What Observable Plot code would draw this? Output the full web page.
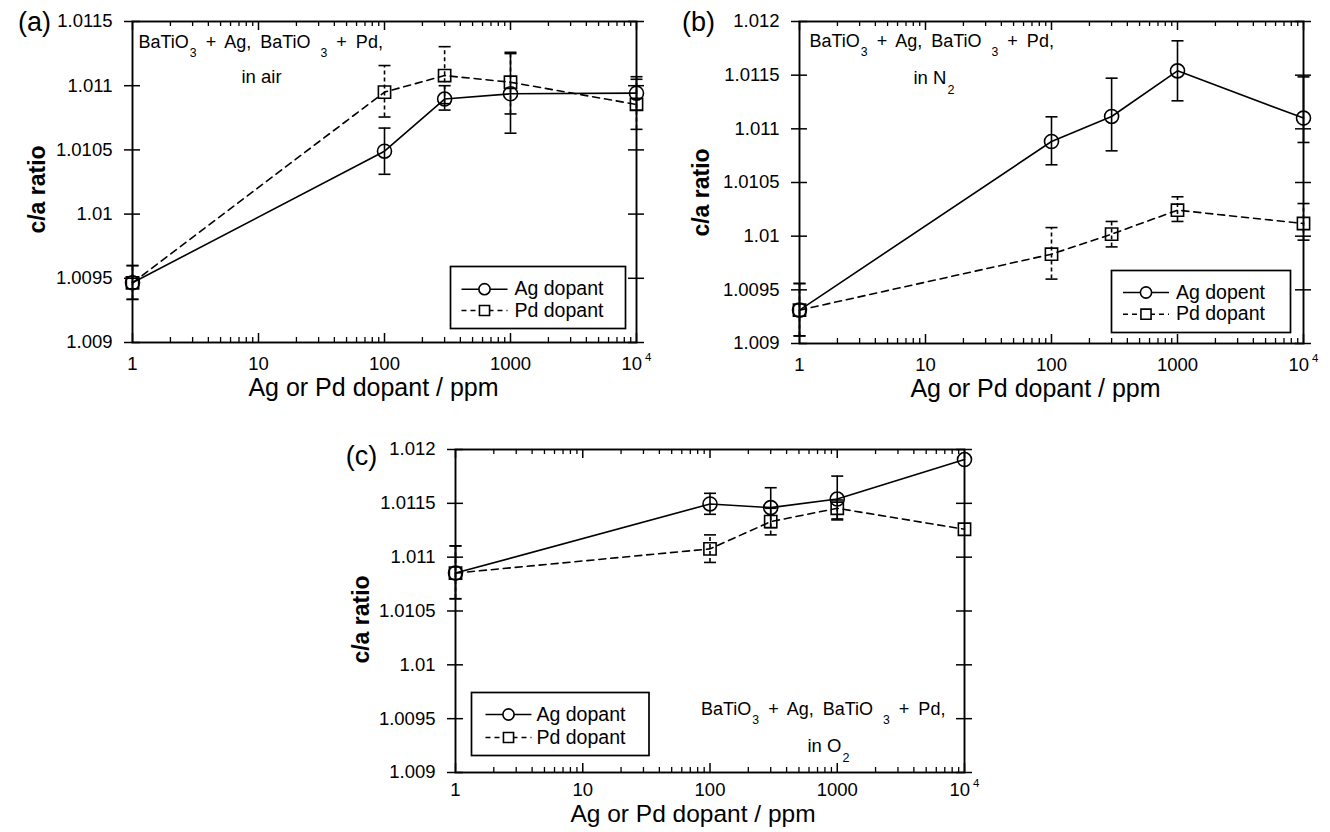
<!DOCTYPE html>
<html>
<head>
<meta charset="utf-8">
<script src="https://cdn.jsdelivr.net/npm/d3@7"></script>
<script src="https://cdn.jsdelivr.net/npm/@observablehq/plot@0.6"></script>
<style>
  body { margin: 0; background: #fff; }
  #fig { position: relative; width: 1330px; height: 832px; overflow: hidden; background: #fff; }
  #fig svg { position: absolute; overflow: visible; }
</style>
</head>
<body>
<div id="fig"></div>
<script>
// ---------- data ----------
const dopant = [1, 100, 300, 1000, 10000];           // ppm
const xTicks = [1, 10, 100, 1000, 10000];
const xTickLabels = ["1", "10", "100", "1000", "10^4"];
const yTicksA = [1.009, 1.0095, 1.01, 1.0105, 1.011, 1.0115];
const yTicksBC = [1.009, 1.0095, 1.01, 1.0105, 1.011, 1.0115, 1.012];

// (a) in air
const agAir   = [1.009465, 1.01049, 1.010896, 1.010937, 1.010942];
const agAirLo = [1.009336, 1.01031, 1.01081, 1.01063, 1.01081];
const agAirHi = [1.009599, 1.01067, 1.01100, 1.01125, 1.01107];
const pdAir   = [1.009465, 1.01095, 1.011079, 1.011027, 1.010854];
const pdAirLo = [1.009336, 1.010756, 1.01086, 1.01078, 1.01066];
const pdAirHi = [1.009599, 1.011157, 1.011304, 1.01126, 1.01105];

// (b) in N2
const agN2   = [1.009311, 1.010882, 1.011115, 1.01154, 1.0111];
const agN2Lo = [1.009071, 1.010665, 1.010795, 1.011261, 1.010873];
const agN2Hi = [1.009559, 1.011112, 1.011472, 1.01182, 1.011484];
const pdN2   = [1.009311, 1.009832, 1.010019, 1.010242, 1.010118];
const pdN2Lo = [1.009071, 1.0096, 1.0099, 1.010137, 1.009963];
const pdN2Hi = [1.009559, 1.01008, 1.010137, 1.010367, 1.010304];

// (c) in O2
const agO2   = [1.010852, 1.011494, 1.01146, 1.01154, 1.011907];
const agO2Lo = [1.010614, 1.011398, 1.011275, 1.011346, null];
const agO2Hi = [1.011105, 1.011593, 1.011645, 1.011753, null];
const pdO2   = [1.010852, 1.011077, 1.01133, 1.011454, 1.011259];
const pdO2Lo = [1.010614, 1.010951, 1.011207, 1.011355, null];
const pdO2Hi = [1.011105, 1.011207, 1.011454, 1.011531, null];

// ---------- drawing ----------
const FONT = "'Liberation Sans', Arial, Helvetica, sans-serif";
const hLine = { draw(ctx, size) { const r = Math.sqrt(size / Math.PI); ctx.moveTo(-r, 0); ctx.lineTo(r, 0); } };
const xMinor = [1, 10, 100, 1000].flatMap(d => [2, 3, 4, 5, 6, 7, 8, 9].map(k => k * d));
const LW = 1.6;

function rows(ys, lo, hi) {
  return dopant.map((x, i) => ({ x, y: ys[i], lo: lo[i], hi: hi[i] }));
}

function panel(p) {
  const innerW = p.width - p.ml - p.mr, innerH = p.height - p.mt - p.mb;
  const ag = rows(p.ag, p.agLo, p.agHi), pd = rows(p.pd, p.pdLo, p.pdHi);
  const L = p.legend;
  const svg = Plot.plot({
    width: p.width, height: p.height,
    marginLeft: p.ml, marginRight: p.mr, marginTop: p.mt, marginBottom: p.mb,
    x: { type: "log", domain: [1, 10000] },
    y: { domain: [p.yTicks[0], p.yTicks[p.yTicks.length - 1]] },
    style: { fontFamily: FONT, fontSize: "18.5px", color: "black", background: "white", overflow: "visible" },
    marks: [
      // ticks
      Plot.tickX(xMinor, { x: d => d, insetTop: innerH - 5, strokeWidth: 1.3 }),
      Plot.tickX(xMinor, { x: d => d, insetBottom: innerH - 5, strokeWidth: 1.3 }),
      Plot.tickX(xTicks, { x: d => d, insetTop: innerH - 9, strokeWidth: 1.5 }),
      Plot.tickX(xTicks, { x: d => d, insetBottom: innerH - 9, strokeWidth: 1.5 }),
      Plot.tickY(p.yTicks, { y: d => d, insetRight: innerW - 16, dx: -8, strokeWidth: 1.5 }),
      Plot.tickY(p.yTicks, { y: d => d, insetLeft: innerW - 16, dx: 8, strokeWidth: 1.5 }),
      Plot.frame({ stroke: "black", strokeWidth: 1.9 }),
      Plot.axisX(xTicks, { tickSize: 0, tickPadding: p.xPad, tickFormat: d => xTickLabels[xTicks.indexOf(d)], label: null }),
      Plot.axisY(p.yTicks, { tickSize: 0, tickPadding: 20, tickFormat: d => String(+d.toFixed(4)), label: null }),
      // series lines
      Plot.line(pd, { x: "x", y: "y", stroke: "black", strokeWidth: LW, strokeDasharray: "7,5" }),
      Plot.line(ag, { x: "x", y: "y", stroke: "black", strokeWidth: LW }),
      // error bars
      Plot.ruleX(pd, { x: "x", y1: "lo", y2: "hi", stroke: "black", strokeWidth: LW, strokeDasharray: "4,3" }),
      Plot.dot(pd, { x: "x", y: "lo", symbol: hLine, r: 6, stroke: "black", fill: "none", strokeWidth: LW }),
      Plot.dot(pd, { x: "x", y: "hi", symbol: hLine, r: 6, stroke: "black", fill: "none", strokeWidth: LW }),
      Plot.ruleX(ag, { x: "x", y1: "lo", y2: "hi", stroke: "black", strokeWidth: LW }),
      Plot.dot(ag, { x: "x", y: "lo", symbol: hLine, r: 6, stroke: "black", fill: "none", strokeWidth: LW }),
      Plot.dot(ag, { x: "x", y: "hi", symbol: hLine, r: 6, stroke: "black", fill: "none", strokeWidth: LW }),
      // markers
      Plot.dot(ag, { x: "x", y: "y", symbol: "circle", r: 7, stroke: "black", fill: "none", strokeWidth: LW }),
      Plot.dot(pd, { x: "x", y: "y", symbol: "square", r: 6.9, stroke: "black", fill: "none", strokeWidth: LW }),
      // annotation
      Plot.text([p.note], { text: d => d, frameAnchor: "top-left", dx: p.noteDx, dy: p.noteDy, textAnchor: "start", lineAnchor: "middle", fontSize: 18 }),
      Plot.text([p.note2], { text: d => d, frameAnchor: "top-left", dx: p.note2Dx, dy: p.note2Dy, textAnchor: "start", lineAnchor: "middle", fontSize: 18.5 }),
      // legend
      Plot.frame({ insetLeft: L.left, insetRight: L.right, insetTop: L.top, insetBottom: L.bottom, fill: "white", stroke: "black", strokeWidth: 1.7 }),
      Plot.dot([0], { frameAnchor: "top-left", dx: L.lineDx, dy: L.row1, symbol: hLine, r: 23, stroke: "black", fill: "none", strokeWidth: LW }),
      Plot.dot([0], { frameAnchor: "top-left", dx: L.lineDx, dy: L.row1, symbol: "circle", r: 5.6, stroke: "black", fill: "white", strokeWidth: LW }),
      Plot.dot([0], { frameAnchor: "top-left", dx: L.lineDx, dy: L.row2, symbol: hLine, r: 23, stroke: "black", fill: "none", strokeWidth: LW, strokeDasharray: "5,4" }),
      Plot.dot([0], { frameAnchor: "top-left", dx: L.lineDx, dy: L.row2, symbol: "square", r: 5.7, stroke: "black", fill: "white", strokeWidth: LW }),
      Plot.text([L.agLabel], { text: d => d, frameAnchor: "top-left", dx: L.textDx, dy: L.row1, textAnchor: "start", lineAnchor: "middle", fontSize: 19.5 }),
      Plot.text(["Pd dopant"], { text: d => d, frameAnchor: "top-left", dx: L.textDx, dy: L.row2, textAnchor: "start", lineAnchor: "middle", fontSize: 19.5 }),
      // labels
      Plot.text([p.letter], { text: d => d, frameAnchor: "top-left", dx: p.letterDx, dy: p.letterDy, textAnchor: "middle", lineAnchor: "middle", fontSize: 27 }),
      Plot.text(["c/a ratio"], { text: d => d, frameAnchor: "left", rotate: -90, dx: p.ylabDx, dy: p.ylabDy, textAnchor: "middle", lineAnchor: "middle", fontSize: 23, fontWeight: "bold" }),
      Plot.text(["Ag or Pd dopant / ppm"], { text: d => d, frameAnchor: "bottom", dx: p.xlabDx, dy: p.xlabDy, textAnchor: "middle", lineAnchor: "middle", fontSize: p.xlabFs })
    ]
  });
  svg.style.left = p.left + "px";
  svg.style.top = p.top + "px";
  return svg;
}

function richText(svg) {
  d3.select(svg).selectAll("text").each(function () {
    const s = this.textContent;
    if (!/[_^]\d/.test(s)) return;
    const fs = parseFloat(getComputedStyle(this).fontSize) || 18;
    const el = d3.select(this);
    el.text(null).style("white-space", "pre");
    if (s.includes("BaTiO")) el.style("word-spacing", "4px");
    const parts = s.split(/([_^]\d)/).filter(t => t !== "");
    let shift = 0;
    for (const part of parts) {
      if (part[0] === "_" || part[0] === "^") {
        const sub = part[0] === "_";
        const d = sub ? 0.5 * fs : -0.49 * fs;
        el.append("tspan").attr("font-size", (sub ? 0.68 : 0.62) * fs).attr("dx", sub ? 1 : 3).attr("dy", d - shift).text(part.slice(1));
        shift = d;
      } else {
        el.append("tspan").attr("dy", -shift).text(part);
        shift = 0;
      }
    }
  });
}

const panels = [
  { left: 0, top: 0, width: 665, height: 400, ml: 132, mr: 29, mt: 21, mb: 58, yTicks: yTicksA,
    ag: agAir, agLo: agAirLo, agHi: agAirHi, pd: pdAir, pdLo: pdAirLo, pdHi: pdAirHi,
    letter: "(a)", letterDx: -98, letterDy: 1, ylabDx: -95, ylabDy: 7.5, xlabDx: -11, xlabDy: 45, xlabFs: 25, xPad: 14,
    note: "BaTiO_3 + Ag, BaTiO _3 + Pd,", noteDx: 6, noteDy: 21, note2: "in air", note2Dx: 109, note2Dy: 56,
    legend: { left: 318, right: 11, top: 245, bottom: 14, lineDx: 352, textDx: 382, row1: 267.7, row2: 289, agLabel: "Ag dopant" } },
  { left: 665, top: 0, width: 665, height: 400, ml: 134, mr: 27, mt: 21, mb: 57, yTicks: yTicksBC,
    ag: agN2, agLo: agN2Lo, agHi: agN2Hi, pd: pdN2, pdLo: pdN2Lo, pdHi: pdN2Hi,
    letter: "(b)", letterDx: -101, letterDy: 1, ylabDx: -98, ylabDy: 10, xlabDx: -16, xlabDy: 45.7, xlabFs: 25, xPad: 14,
    note: "BaTiO_3 + Ag, BaTiO _3 + Pd,", noteDx: 10, noteDy: 20, note2: "in N_2", note2Dx: 114, note2Dy: 57,
    legend: { left: 312, right: 13, top: 249, bottom: 11, lineDx: 346.5, textDx: 376.5, row1: 271, row2: 292.7, agLabel: "Ag dopent" } },
  { left: 330, top: 410, width: 670, height: 422, ml: 125, mr: 36, mt: 39, mb: 60, yTicks: yTicksBC,
    ag: agO2, agLo: agO2Lo, agHi: agO2Hi, pd: pdO2, pdLo: pdO2Lo, pdHi: pdO2Hi,
    letter: "(c)", letterDx: -94, letterDy: 7, ylabDx: -94, ylabDy: 8.5, xlabDx: -17, xlabDy: 42, xlabFs: 24.5, xPad: 10,
    note: "BaTiO_3 + Ag, BaTiO _3 + Pd,", noteDx: 245.5, noteDy: 260, note2: "in O_2", note2Dx: 352, note2Dy: 297,
    legend: { left: 16, right: 315.5, top: 243, bottom: 17, lineDx: 53, textDx: 81, row1: 265, row2: 288, agLabel: "Ag dopant" } }
];

const fig = document.getElementById("fig");
for (const p of panels) {
  const svg = panel(p);
  fig.appendChild(svg);
  richText(svg);
}
</script>
</body>
</html>
